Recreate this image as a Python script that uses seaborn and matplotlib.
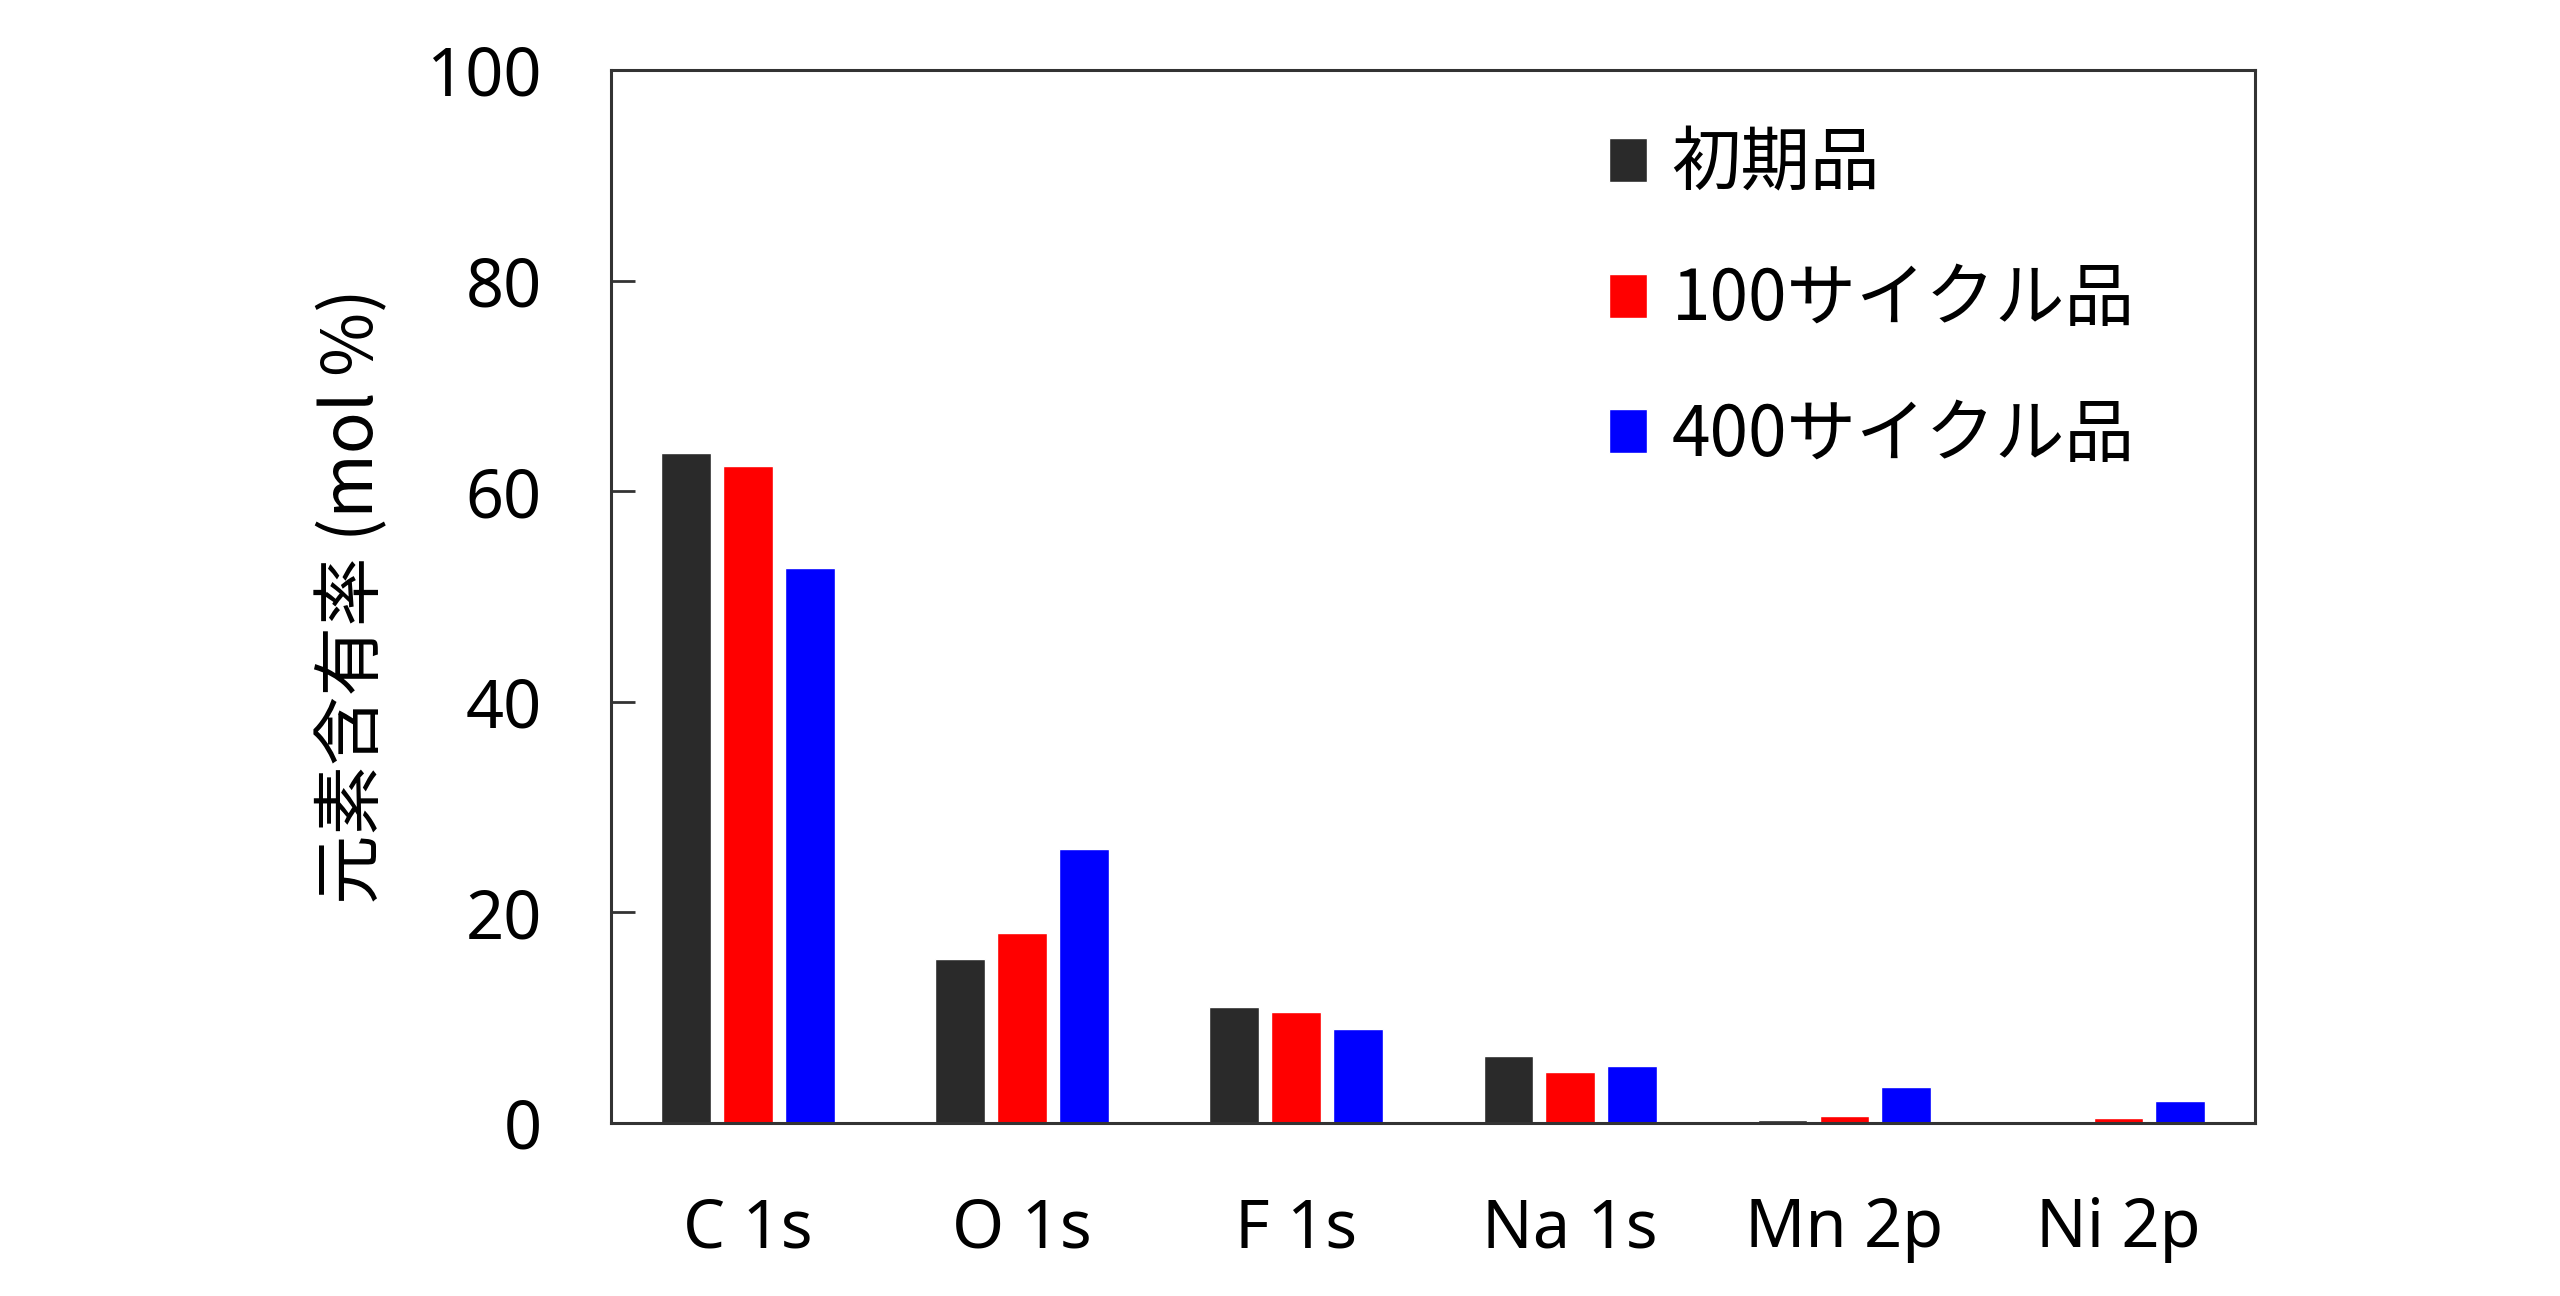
import numpy as np
import pandas as pd
import seaborn as sns
import matplotlib.pyplot as plt

# XPS element content per sample
peaks = ['C 1s', 'O 1s', 'F 1s', 'Na 1s', 'Mn 2p', 'Ni 2p']
samples = ['初期品', '100サイクル品', '400サイクル品']
initial = [63.6, 15.6, 11.0, 6.4, 0.3, 0.0]
cyc100 = [62.4, 18.0, 10.5, 4.8, 0.7, 0.5]
cyc400 = [52.7, 26.0, 8.9, 5.4, 3.4, 2.1]
colors = ['#2a2a2a', '#ff0000', '#0000ff']

df = pd.DataFrame({'peak': peaks * 3,
                   'sample': np.repeat(samples, len(peaks)),
                   'value': initial + cyc100 + cyc400})

sns.set_style('white')
plt.rcParams['font.family'] = ['Noto Sans', 'Noto Sans CJK JP', 'DejaVu Sans']
plt.rcParams['text.color'] = 'black'
plt.rcParams['axes.labelcolor'] = 'black'
plt.rcParams['xtick.color'] = 'black'
plt.rcParams['ytick.color'] = 'black'

fig, ax = plt.subplots(figsize=(25.6, 12.96), dpi=100)
fig.subplots_adjust(left=0.2387, right=0.881, top=0.946, bottom=0.1335)

sns.barplot(data=df, x='peak', y='value', hue='sample', palette=colors,
            width=0.678, gap=0.2, saturation=1, ax=ax)

ax.set_xlim(-0.5, 5.5)
ax.set_ylim(0, 100)
ax.set_yticks([0, 20, 40, 60, 80, 100])
ax.set_xlabel('')
ax.set_ylabel('元素含有率 (mol %)', fontsize=50, labelpad=27,
              family=['Noto Sans CJK JP', 'Noto Sans'])
ax.tick_params(axis='y', direction='in', length=17, width=2, color='#333333',
               labelcolor='black', labelsize=48, pad=50, left=True)
ax.tick_params(axis='x', length=0, labelsize=48, labelcolor='black', pad=52)
for s in ax.spines.values():
    s.set_color('#333333')
    s.set_linewidth(2.2)

leg = ax.legend(loc='upper left', bbox_to_anchor=(0.59, 0.97), frameon=False,
                handlelength=0.55, handleheight=0.6,
                handletextpad=0.35, labelspacing=0.92, borderaxespad=0,
                prop={'family': ['Noto Sans CJK JP', 'Noto Sans'], 'size': 50})

plt.savefig('out.png')
